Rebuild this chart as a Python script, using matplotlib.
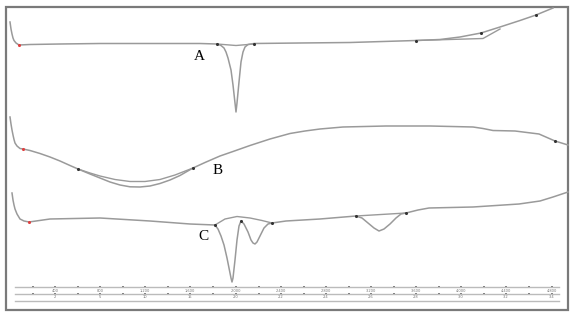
import matplotlib
matplotlib.use("Agg")
import matplotlib.pyplot as plt
from matplotlib.patches import Rectangle

# curve values (screen units: x to the right, y downward)
A_x = [10, 11, 12, 13, 14, 16, 19, 30, 60, 100, 150, 200, 217, 221, 224, 226, 228, 231,
       233, 235, 236, 237, 239, 241, 243, 245, 248, 254, 300, 350, 416, 440, 460, 481,
       500, 520, 536, 553]
A_y = [22, 29, 34, 38, 40.5, 43, 45, 44.5, 44, 43.5, 43.5, 43.5, 44, 45.5, 48, 52, 58,
       70, 85, 103, 112, 103, 82, 62, 52, 47, 44.5, 43.5, 43, 42.5, 40.5, 39.5, 37, 33,
       27, 20.5, 15, 8]
A_base1_x = [217, 236, 254]
A_base1_y = [44, 45.5, 44]
A_base2_x = [416, 483, 500]
A_base2_y = [40.5, 38.5, 29]
A_dots_x = [217, 254, 416, 481, 536]
A_dots_y = [44, 43.5, 40.5, 33, 15]

B_x = [10, 11, 12, 13, 14, 15, 17, 20, 23, 30, 40, 50, 60, 70, 78, 90, 100, 110, 120,
       130, 140, 150, 160, 170, 180, 193, 205, 220, 233, 250, 270, 290, 305, 320, 343,
       386, 430, 473, 483, 493, 515, 539, 555, 568]
B_y = [117, 124, 130, 135, 139.5, 143, 146, 148.5, 149, 150.5, 153.5, 157, 161, 165.5,
       169, 174, 178, 182, 185, 186.8, 187, 186, 183.5, 180, 175.5, 168, 162.5, 156,
       151.5, 145.5, 139, 133.5, 131, 129, 127, 126, 126, 127, 128.5, 130.5, 131, 134,
       141, 145]
B_base_x = [78, 90, 100, 115, 130, 145, 160, 175, 193]
B_base_y = [169, 173, 176, 179.5, 181.5, 181.5, 179.5, 175, 168]
B_dots_x = [78, 193, 555]
B_dots_y = [169, 168, 141]

C_x = [12, 13, 14, 15, 17, 20, 24, 29, 50, 100, 150, 190, 215, 218, 221, 224, 227, 229,
       231, 232, 233, 235, 237, 239, 241, 244, 248, 251, 253, 255, 257, 260, 264, 268,
       272, 286, 320, 356, 362, 368, 374, 379, 384, 390, 396, 401, 406, 418, 429, 473,
       519, 540, 553, 568]
C_y = [193, 200, 205, 209, 214, 219, 221, 222, 219, 218, 221, 224, 225, 229, 236, 245,
       258, 268, 278, 282, 278, 260, 240, 226, 221, 224, 232, 240, 243, 244, 242, 236,
       228, 224, 223, 221, 219, 216, 218, 223, 228, 231, 229, 224, 218, 214, 213, 210,
       208, 207, 204, 201, 197, 192]
C_base1_x = [215, 225, 237, 250, 262, 272]
C_base1_y = [225, 219, 216.5, 218, 220.5, 223]
C_base2_x = [356, 406]
C_base2_y = [216, 213]
C_dots_x = [215, 241, 272, 356, 406]
C_dots_y = [225, 221, 223, 216, 213]

red_x = [19, 23, 29]
red_y = [45, 149, 222]

labels = ["A", "B", "C"]
label_x = [199, 218, 203]
label_y = [57, 171, 237]

# bottom scale strips
scale_major = [55, 100, 145, 190, 236, 281, 326, 371, 416, 461, 506, 552]
scale_top = ["400", "800", "1,200", "1,600", "2,000", "2,400", "2,800", "3,200",
             "3,600", "4,000", "4,400", "4,800"]
scale_bot = ["2", "5", "10", "15", "2.0", "2.2", "2.4", "2.6", "2.8", "3.0", "3.2", "3.4"]
strip_y = [287, 294, 301]

fig = plt.figure(figsize=(5.76, 3.25), dpi=100)
ax = fig.add_axes([0, 0, 1, 1])
ax.set_xlim(0, 576)
ax.set_ylim(325, 0)
ax.axis("off")

line_col = "#9a9a9a"
ax.plot(A_x, A_y, color=line_col, lw=1.1)
ax.plot(B_x, B_y, color=line_col, lw=1.1)
ax.plot(C_x, C_y, color=line_col, lw=1.1)
for bx, by in [(A_base1_x, A_base1_y), (A_base2_x, A_base2_y), (B_base_x, B_base_y),
               (C_base1_x, C_base1_y), (C_base2_x, C_base2_y)]:
    ax.plot(bx, by, color=line_col, lw=1.0)

ax.scatter(A_dots_x + B_dots_x + C_dots_x, A_dots_y + B_dots_y + C_dots_y,
           s=5, color="#333333", zorder=3, linewidths=0)
ax.scatter(red_x, red_y, s=5, color="#e04040", zorder=3, linewidths=0)

for t, x, y in zip(labels, label_x, label_y):
    ax.text(x, y, t, fontsize=11, family="Liberation Serif", ha="center", va="center")

# scale strips at the bottom
for y in strip_y:
    ax.plot([15, 559], [y, y], color="#bbbbbb", lw=1.0)
minor = [(scale_major[i] + scale_major[i + 1]) / 2 for i in range(len(scale_major) - 1)]
minor = [scale_major[0] - 22.5] + minor
for y in strip_y[:2]:
    ax.scatter(scale_major + minor, [y] * (len(scale_major) + len(minor)),
               s=2, marker="s", color="#777777", linewidths=0)
for x, t1, t2 in zip(scale_major, scale_top, scale_bot):
    ax.text(x, 290.5, t1, fontsize=2.6, ha="center", va="center", color="#777777")
    ax.text(x, 297.5, t2, fontsize=2.6, ha="center", va="center", color="#777777")

ax.add_patch(Rectangle((6, 7), 562, 303, fill=False, edgecolor="#7a7a7a", lw=1.6))

fig.savefig("out.png", dpi=100)
